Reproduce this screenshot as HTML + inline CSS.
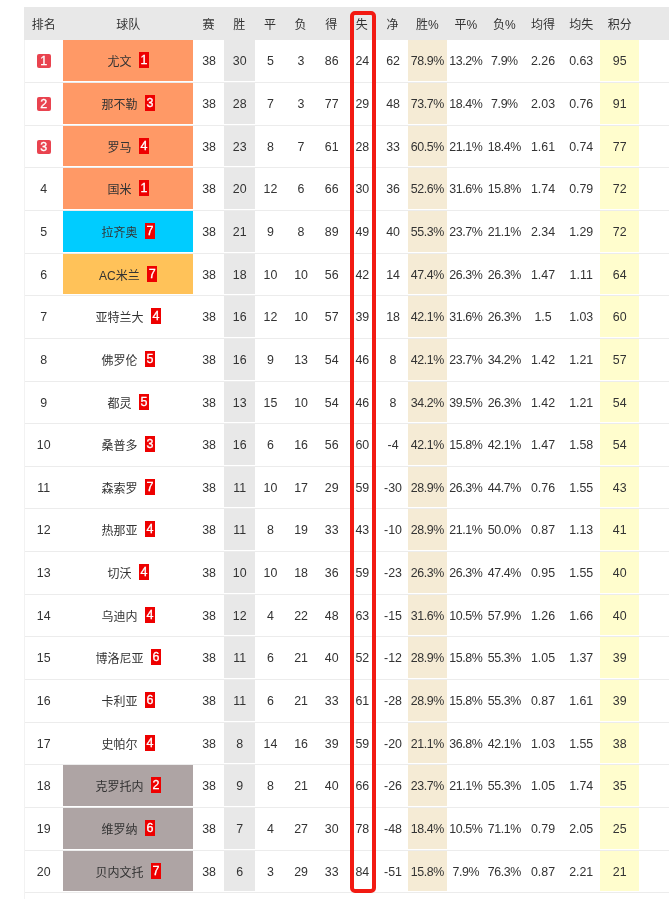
<!DOCTYPE html>
<html lang="zh-CN">
<head>
<meta charset="utf-8">
<title>意甲积分榜</title>
<style>
html,body{margin:0;padding:0;background:#fff;}
body{width:669px;height:899px;position:relative;overflow:hidden;font-family:"Liberation Sans","Noto Sans CJK SC",sans-serif;font-size:12.4px;color:#333;}
.vl{position:absolute;left:24px;top:40px;width:1px;height:859px;background:#f2f2f2;}
.hd,.row{position:absolute;left:24.5px;width:644.5px;display:flex;white-space:nowrap;}
.hd{top:7px;height:33px;line-height:37px;font-size:12px;}
.hdbg{position:absolute;left:24px;top:7px;width:645px;height:33px;background:#e8e8e8;}
.row{line-height:42px;}
.hd>span,.row>span{flex:none;display:block;text-align:center;box-sizing:border-box;height:100%;}
.row>span{border-bottom:1px solid #ececec;}
.row>.k{padding-bottom:1px;background-clip:content-box;}
.o{background-color:#ff9966;}.bl{background-color:#00ccff;}.y{background-color:#ffc259;}.g{background-color:#aea4a4;}
.w{background-color:#e8e8e8;}.pc{background-color:#f5ebd5;}.pt{background-color:#fffdcd;}
.t{font-size:12px;line-height:44px;}
.p{letter-spacing:-0.4px;}
.n{text-indent:1px;}
.rk{display:inline-block;width:14px;height:14px;line-height:14px;background:#e9434f;color:#fff;font-weight:normal;-webkit-text-stroke:0.3px #fff;font-size:12.5px;border-radius:2px;vertical-align:top;margin-top:14px;}
.cd{display:inline-block;width:10px;height:16px;line-height:17px;background:#ee0000;color:#fff;font-weight:normal;-webkit-text-stroke:0.3px #fff;font-size:12.5px;vertical-align:top;margin:12px 0 0 7.5px;text-align:center;}
.box{position:absolute;left:350px;top:11px;width:18px;height:874px;border:4px solid #f21a12;border-bottom-width:4.5px;border-radius:5px;}
.c0{width:38.50px;}
.c1{width:130.30px;}
.c2{width:30.65px;}
.c3{width:30.65px;}
.c4{width:30.65px;}
.c5{width:30.65px;}
.c6{width:30.65px;}
.c7{width:30.65px;}
.c8{width:30.80px;}
.c9{width:38.60px;}
.c10{width:38.60px;}
.c11{width:38.60px;}
.c12{width:38.60px;}
.c13{width:37.80px;}
.c14{width:39.20px;}
.c15{width:29.60px;}
</style>
</head>
<body>
<div class="hdbg"></div>
<div class="vl"></div>
<div class="hd"><span class="c0">排名</span><span class="c1">球队</span><span class="c2">赛</span><span class="c3">胜</span><span class="c4">平</span><span class="c5">负</span><span class="c6">得</span><span class="c7">失</span><span class="c8">净</span><span class="c9">胜%</span><span class="c10">平%</span><span class="c11">负%</span><span class="c12">均得</span><span class="c13">均失</span><span class="c14">积分</span></div>
<div class="row" style="top:40px;height:43px"><span class="c0"><b class="rk">1</b></span><span class="c1 t k o">尤文<b class="cd">1</b></span><span class="c2 n">38</span><span class="c3 n k w">30</span><span class="c4 n">5</span><span class="c5 n">3</span><span class="c6 n">86</span><span class="c7 n">24</span><span class="c8 n">62</span><span class="c9 p k pc">78.9%</span><span class="c10 p">13.2%</span><span class="c11 p">7.9%</span><span class="c12">2.26</span><span class="c13">0.63</span><span class="c14 k pt">95</span><span class="c15"></span></div>
<div class="row" style="top:83px;height:43px"><span class="c0"><b class="rk">2</b></span><span class="c1 t k o">那不勒<b class="cd">3</b></span><span class="c2 n">38</span><span class="c3 n k w">28</span><span class="c4 n">7</span><span class="c5 n">3</span><span class="c6 n">77</span><span class="c7 n">29</span><span class="c8 n">48</span><span class="c9 p k pc">73.7%</span><span class="c10 p">18.4%</span><span class="c11 p">7.9%</span><span class="c12">2.03</span><span class="c13">0.76</span><span class="c14 k pt">91</span><span class="c15"></span></div>
<div class="row" style="top:126px;height:42px"><span class="c0"><b class="rk">3</b></span><span class="c1 t k o">罗马<b class="cd">4</b></span><span class="c2 n">38</span><span class="c3 n k w">23</span><span class="c4 n">8</span><span class="c5 n">7</span><span class="c6 n">61</span><span class="c7 n">28</span><span class="c8 n">33</span><span class="c9 p k pc">60.5%</span><span class="c10 p">21.1%</span><span class="c11 p">18.4%</span><span class="c12">1.61</span><span class="c13">0.74</span><span class="c14 k pt">77</span><span class="c15"></span></div>
<div class="row" style="top:168px;height:43px"><span class="c0">4</span><span class="c1 t k o">国米<b class="cd">1</b></span><span class="c2 n">38</span><span class="c3 n k w">20</span><span class="c4 n">12</span><span class="c5 n">6</span><span class="c6 n">66</span><span class="c7 n">30</span><span class="c8 n">36</span><span class="c9 p k pc">52.6%</span><span class="c10 p">31.6%</span><span class="c11 p">15.8%</span><span class="c12">1.74</span><span class="c13">0.79</span><span class="c14 k pt">72</span><span class="c15"></span></div>
<div class="row" style="top:211px;height:43px"><span class="c0">5</span><span class="c1 t k bl">拉齐奥<b class="cd">7</b></span><span class="c2 n">38</span><span class="c3 n k w">21</span><span class="c4 n">9</span><span class="c5 n">8</span><span class="c6 n">89</span><span class="c7 n">49</span><span class="c8 n">40</span><span class="c9 p k pc">55.3%</span><span class="c10 p">23.7%</span><span class="c11 p">21.1%</span><span class="c12">2.34</span><span class="c13">1.29</span><span class="c14 k pt">72</span><span class="c15"></span></div>
<div class="row" style="top:254px;height:42px"><span class="c0">6</span><span class="c1 t k y">AC米兰<b class="cd">7</b></span><span class="c2 n">38</span><span class="c3 n k w">18</span><span class="c4 n">10</span><span class="c5 n">10</span><span class="c6 n">56</span><span class="c7 n">42</span><span class="c8 n">14</span><span class="c9 p k pc">47.4%</span><span class="c10 p">26.3%</span><span class="c11 p">26.3%</span><span class="c12">1.47</span><span class="c13">1.11</span><span class="c14 k pt">64</span><span class="c15"></span></div>
<div class="row" style="top:296px;height:43px"><span class="c0">7</span><span class="c1 t">亚特兰大<b class="cd">4</b></span><span class="c2 n">38</span><span class="c3 n k w">16</span><span class="c4 n">12</span><span class="c5 n">10</span><span class="c6 n">57</span><span class="c7 n">39</span><span class="c8 n">18</span><span class="c9 p k pc">42.1%</span><span class="c10 p">31.6%</span><span class="c11 p">26.3%</span><span class="c12">1.5</span><span class="c13">1.03</span><span class="c14 k pt">60</span><span class="c15"></span></div>
<div class="row" style="top:339px;height:43px"><span class="c0">8</span><span class="c1 t">佛罗伦<b class="cd">5</b></span><span class="c2 n">38</span><span class="c3 n k w">16</span><span class="c4 n">9</span><span class="c5 n">13</span><span class="c6 n">54</span><span class="c7 n">46</span><span class="c8 n">8</span><span class="c9 p k pc">42.1%</span><span class="c10 p">23.7%</span><span class="c11 p">34.2%</span><span class="c12">1.42</span><span class="c13">1.21</span><span class="c14 k pt">57</span><span class="c15"></span></div>
<div class="row" style="top:382px;height:42px"><span class="c0">9</span><span class="c1 t">都灵<b class="cd">5</b></span><span class="c2 n">38</span><span class="c3 n k w">13</span><span class="c4 n">15</span><span class="c5 n">10</span><span class="c6 n">54</span><span class="c7 n">46</span><span class="c8 n">8</span><span class="c9 p k pc">34.2%</span><span class="c10 p">39.5%</span><span class="c11 p">26.3%</span><span class="c12">1.42</span><span class="c13">1.21</span><span class="c14 k pt">54</span><span class="c15"></span></div>
<div class="row" style="top:424px;height:43px"><span class="c0">10</span><span class="c1 t">桑普多<b class="cd">3</b></span><span class="c2 n">38</span><span class="c3 n k w">16</span><span class="c4 n">6</span><span class="c5 n">16</span><span class="c6 n">56</span><span class="c7 n">60</span><span class="c8 n">-4</span><span class="c9 p k pc">42.1%</span><span class="c10 p">15.8%</span><span class="c11 p">42.1%</span><span class="c12">1.47</span><span class="c13">1.58</span><span class="c14 k pt">54</span><span class="c15"></span></div>
<div class="row" style="top:467px;height:42px"><span class="c0">11</span><span class="c1 t">森索罗<b class="cd">7</b></span><span class="c2 n">38</span><span class="c3 n k w">11</span><span class="c4 n">10</span><span class="c5 n">17</span><span class="c6 n">29</span><span class="c7 n">59</span><span class="c8 n">-30</span><span class="c9 p k pc">28.9%</span><span class="c10 p">26.3%</span><span class="c11 p">44.7%</span><span class="c12">0.76</span><span class="c13">1.55</span><span class="c14 k pt">43</span><span class="c15"></span></div>
<div class="row" style="top:509px;height:43px"><span class="c0">12</span><span class="c1 t">热那亚<b class="cd">4</b></span><span class="c2 n">38</span><span class="c3 n k w">11</span><span class="c4 n">8</span><span class="c5 n">19</span><span class="c6 n">33</span><span class="c7 n">43</span><span class="c8 n">-10</span><span class="c9 p k pc">28.9%</span><span class="c10 p">21.1%</span><span class="c11 p">50.0%</span><span class="c12">0.87</span><span class="c13">1.13</span><span class="c14 k pt">41</span><span class="c15"></span></div>
<div class="row" style="top:552px;height:43px"><span class="c0">13</span><span class="c1 t">切沃<b class="cd">4</b></span><span class="c2 n">38</span><span class="c3 n k w">10</span><span class="c4 n">10</span><span class="c5 n">18</span><span class="c6 n">36</span><span class="c7 n">59</span><span class="c8 n">-23</span><span class="c9 p k pc">26.3%</span><span class="c10 p">26.3%</span><span class="c11 p">47.4%</span><span class="c12">0.95</span><span class="c13">1.55</span><span class="c14 k pt">40</span><span class="c15"></span></div>
<div class="row" style="top:595px;height:42px"><span class="c0">14</span><span class="c1 t">乌迪内<b class="cd">4</b></span><span class="c2 n">38</span><span class="c3 n k w">12</span><span class="c4 n">4</span><span class="c5 n">22</span><span class="c6 n">48</span><span class="c7 n">63</span><span class="c8 n">-15</span><span class="c9 p k pc">31.6%</span><span class="c10 p">10.5%</span><span class="c11 p">57.9%</span><span class="c12">1.26</span><span class="c13">1.66</span><span class="c14 k pt">40</span><span class="c15"></span></div>
<div class="row" style="top:637px;height:43px"><span class="c0">15</span><span class="c1 t">博洛尼亚<b class="cd">6</b></span><span class="c2 n">38</span><span class="c3 n k w">11</span><span class="c4 n">6</span><span class="c5 n">21</span><span class="c6 n">40</span><span class="c7 n">52</span><span class="c8 n">-12</span><span class="c9 p k pc">28.9%</span><span class="c10 p">15.8%</span><span class="c11 p">55.3%</span><span class="c12">1.05</span><span class="c13">1.37</span><span class="c14 k pt">39</span><span class="c15"></span></div>
<div class="row" style="top:680px;height:43px"><span class="c0">16</span><span class="c1 t">卡利亚<b class="cd">6</b></span><span class="c2 n">38</span><span class="c3 n k w">11</span><span class="c4 n">6</span><span class="c5 n">21</span><span class="c6 n">33</span><span class="c7 n">61</span><span class="c8 n">-28</span><span class="c9 p k pc">28.9%</span><span class="c10 p">15.8%</span><span class="c11 p">55.3%</span><span class="c12">0.87</span><span class="c13">1.61</span><span class="c14 k pt">39</span><span class="c15"></span></div>
<div class="row" style="top:723px;height:42px"><span class="c0">17</span><span class="c1 t">史帕尔<b class="cd">4</b></span><span class="c2 n">38</span><span class="c3 n k w">8</span><span class="c4 n">14</span><span class="c5 n">16</span><span class="c6 n">39</span><span class="c7 n">59</span><span class="c8 n">-20</span><span class="c9 p k pc">21.1%</span><span class="c10 p">36.8%</span><span class="c11 p">42.1%</span><span class="c12">1.03</span><span class="c13">1.55</span><span class="c14 k pt">38</span><span class="c15"></span></div>
<div class="row" style="top:765px;height:43px"><span class="c0">18</span><span class="c1 t k g">克罗托内<b class="cd">2</b></span><span class="c2 n">38</span><span class="c3 n k w">9</span><span class="c4 n">8</span><span class="c5 n">21</span><span class="c6 n">40</span><span class="c7 n">66</span><span class="c8 n">-26</span><span class="c9 p k pc">23.7%</span><span class="c10 p">21.1%</span><span class="c11 p">55.3%</span><span class="c12">1.05</span><span class="c13">1.74</span><span class="c14 k pt">35</span><span class="c15"></span></div>
<div class="row" style="top:808px;height:43px"><span class="c0">19</span><span class="c1 t k g">维罗纳<b class="cd">6</b></span><span class="c2 n">38</span><span class="c3 n k w">7</span><span class="c4 n">4</span><span class="c5 n">27</span><span class="c6 n">30</span><span class="c7 n">78</span><span class="c8 n">-48</span><span class="c9 p k pc">18.4%</span><span class="c10 p">10.5%</span><span class="c11 p">71.1%</span><span class="c12">0.79</span><span class="c13">2.05</span><span class="c14 k pt">25</span><span class="c15"></span></div>
<div class="row" style="top:851px;height:42px"><span class="c0">20</span><span class="c1 t k g">贝内文托<b class="cd">7</b></span><span class="c2 n">38</span><span class="c3 n k w">6</span><span class="c4 n">3</span><span class="c5 n">29</span><span class="c6 n">33</span><span class="c7 n">84</span><span class="c8 n">-51</span><span class="c9 p k pc">15.8%</span><span class="c10 p">7.9%</span><span class="c11 p">76.3%</span><span class="c12">0.87</span><span class="c13">2.21</span><span class="c14 k pt">21</span><span class="c15"></span></div>
<div class="box"></div>
</body>
</html>
